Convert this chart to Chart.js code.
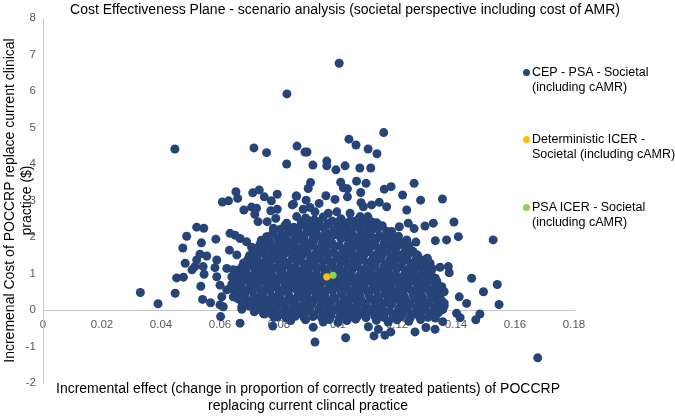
<!DOCTYPE html>
<html><head><meta charset="utf-8">
<script src="https://cdn.jsdelivr.net/npm/chart.js@4/dist/chart.umd.min.js"></script>
<style>
html,body{margin:0;padding:0;background:#fff;}
#wrap{position:relative;width:675px;height:417px;font-family:"Liberation Sans",Arial,sans-serif;color:#000;}
#c{position:absolute;left:0;top:0;}
.t{position:absolute;white-space:nowrap;}
#title{left:0;width:690px;top:0;text-align:center;font-size:14px;line-height:18px;}
#xtitle{left:8px;width:600px;top:380px;text-align:center;font-size:14px;line-height:17px;}
.lg{position:absolute;left:532px;font-size:12.5px;line-height:15px;white-space:nowrap;}
.dot{position:absolute;left:523px;width:7px;height:7px;border-radius:50%;}
</style></head>
<body>
<div id="wrap">
<canvas id="c" width="675" height="417"></canvas>
<div class="t" id="title"></div>
<div class="t" id="xtitle"></div>
<div id="legend"></div>
</div>
<script>
const chartTitle = "Cost Effectiveness Plane - scenario analysis (societal perspective including cost of AMR)";
const xAxisTitle = ["Incremental effect (change in proportion of correctly treated patients) of POCCRP", "replacing current clincal practice"];
const yAxisTitle = ["Incremenal Cost of POCCRP replace current clinical", "practice ($)"];
const seriesNames = [["CEP - PSA - Societal", "(including cAMR)"], ["Deterministic ICER -", "Societal (including cAMR)"], ["PSA ICER - Societal", "(including cAMR)"]];
const seriesColors = ["#264478", "#FFC000", "#92D050"];
const xTicks = [0, 0.02, 0.04, 0.06, 0.08, 0.1, 0.12, 0.14, 0.16, 0.18];
const xTickLabels = ["0", "0.02", "0.04", "0.06", "0.08", "0.1", "0.12", "0.14", "0.16", "0.18"];
const yTicks = [-2, -1, 0, 1, 2, 3, 4, 5, 6, 7, 8];
const yTickLabels = ["-2", "-1", "0", "1", "2", "3", "4", "5", "6", "7", "8"];

// [incremental effect, incremental cost]
const deterministicIcer = [[0.0962, 0.91]];
const psaIcer = [[0.0983, 0.95]];
const cepPsaPoints = [
[0.1004,6.76],[0.0827,5.92],[0.0447,4.41],[0.0715,4.44],[0.0758,4.31],[0.0861,4.49],[0.0888,4.33],[0.0895,4.33],[0.1037,4.68],[0.1061,4.52],[0.1102,4.41],[0.1132,4.28],[0.1155,4.86],[0.0826,4.00],[0.0915,3.97],[0.0962,4.08],[0.0962,3.95],[0.0993,3.84],[0.1024,3.95],[0.1074,3.89],[0.1111,3.89],
[0.0654,3.24],[0.0660,3.06],[0.0608,2.96],[0.0629,2.99],[0.0711,3.21],[0.0733,3.29],[0.0750,3.10],[0.0774,2.99],[0.0794,3.17],[0.0858,3.12],[0.0845,2.88],[0.0681,2.74],[0.0707,2.82],[0.0724,2.79],[0.0718,2.62],[0.0772,2.72],[0.0794,2.76],[0.0729,2.42],[0.0760,2.42],[0.0789,2.51],[0.0521,2.27],[0.0545,2.24],[0.0487,2.02],[0.0537,1.84],[0.0586,1.94],[0.0474,1.70],[0.0532,1.53],[0.0555,1.48],[0.0482,1.28],[0.0521,1.37],[0.0515,1.19],[0.0505,1.10],[0.0543,1.19],[0.0546,0.98],[0.0589,1.37],[0.0583,1.16],[0.0453,0.88],[0.0476,0.90],[0.0535,0.65],[0.0448,0.46],[0.0330,0.48],[0.0390,0.17],[0.0541,0.29],[0.0568,0.20],[0.0602,-0.18],
[0.0634,2.10],[0.0651,2.05],[0.0668,1.96],[0.0690,1.87],[0.0707,1.72],[0.0632,1.64],[0.0657,1.51],[0.0715,1.44],[0.0747,1.64],[0.0724,1.23],[0.0623,1.14],[0.0645,1.10],[0.0679,1.14],[0.0589,0.91],[0.0600,0.68],[0.0623,0.55],[0.0657,0.68],[0.0690,0.82],[0.0606,0.36],[0.0645,0.36],[0.0674,0.09],[0.0713,0.18],[0.0611,0.09],[0.0747,-0.09],[0.0781,-0.05],[0.0815,-0.09],[0.0758,2.01],[0.0781,2.24],[0.0826,2.38],[0.0854,2.15],[0.0820,2.01],[0.0803,1.78],[0.0849,1.64],[0.0781,1.42],[0.0820,1.28],[0.0758,1.01],[0.0724,0.82],[0.0792,0.82],[0.0843,0.91],[0.0696,0.55],[0.0758,0.55],[0.0809,0.55],[0.0860,0.59],[0.0724,0.32],[0.0792,0.27],[0.0843,0.23],[0.0865,0.00],
[0.0907,3.49],[0.0899,3.33],[0.0860,3.12],[0.1009,3.50],[0.1063,3.53],[0.1095,3.47],[0.1018,3.35],[0.1032,3.32],[0.1157,3.31],[0.1180,3.38],[0.1258,3.47],[0.1077,3.22],[0.0959,3.13],[0.0990,3.03],[0.1032,3.10],[0.1219,3.15],[0.1280,3.01],[0.1354,3.04],[0.0892,3.01],[0.0936,2.92],[0.1078,2.94],[0.1086,2.83],[0.1114,2.88],[0.1140,2.95],[0.1165,2.83],[0.1233,2.74],[0.0849,2.90],[0.0882,2.76],[0.0860,2.56],[0.0905,2.81],[0.0922,2.69],[0.0967,2.65],[0.0996,2.69],[0.1041,2.65],[0.1075,2.56],[0.1101,2.56],[0.0899,2.45],[0.0928,2.38],[0.1131,2.39],[0.1114,2.28],[0.1238,2.38],[0.1258,2.23],[0.1295,2.30],[0.1323,2.38],[0.1393,2.41],[0.1208,2.28],[0.1182,2.15],[0.1408,2.01],[0.1368,1.92],[0.1330,1.90],[0.1526,1.92],[0.1233,1.92],[0.1264,1.86],[0.1269,1.51],[0.1289,1.37],[0.1303,1.42],[0.1312,1.28],[0.1346,1.17],[0.1374,1.19],[0.1377,1.02],[0.1453,0.87],[0.1540,0.70],[0.1493,0.50],[0.1360,0.50],[0.1411,0.36],[0.1436,0.18],[0.1546,0.15],[0.1402,-0.09],[0.1481,-0.11],[0.1335,0.73],[0.1352,0.64],
[0.0668,-0.36],[0.0779,-0.44],[0.0916,-0.47],[0.0922,-0.88],[0.1026,-0.76],[0.0950,-0.33],[0.1103,-0.46],[0.1122,-0.71],[0.1159,-0.69],[0.1137,-0.53],[0.1179,-0.60],[0.1261,-0.60],[0.1298,-0.48],[0.1329,-0.53],[0.1355,-0.32],[0.1414,-0.21],[0.1467,-0.27],[0.1677,-1.31],[0.0674,0.02],[0.0716,-0.05],[0.0750,-0.11],[0.0600,0.14],[0.0783,-0.20],
[0.089,2.52],[0.092,2.47],[0.095,2.55],[0.098,2.44],[0.101,2.50],[0.104,2.43],[0.107,2.49],
[0.0875,2.41],[0.0905,2.37],[0.0935,2.42],[0.0965,2.36],[0.0995,2.40],[0.1025,2.38],[0.1055,2.43],[0.1085,2.37],[0.1115,2.41],
[0.082,2.31],[0.085,2.27],[0.088,2.34],[0.091,2.25],[0.094,2.30],[0.097,2.36],[0.100,2.26],[0.103,2.32],[0.106,2.28],[0.109,2.35],[0.112,2.24],[0.115,2.31],
[0.0805,2.21],[0.0835,2.17],[0.0865,2.23],[0.0895,2.19],[0.0925,2.16],[0.0955,2.22],[0.0985,2.18],[0.1015,2.24],[0.1045,2.17],[0.1075,2.21],[0.1105,2.19],[0.1135,2.22],[0.1165,2.16],
[0.078,2.12],[0.081,2.06],[0.084,2.14],[0.087,2.08],[0.090,2.15],[0.093,2.04],[0.096,2.11],[0.099,2.07],[0.102,2.13],[0.105,2.05],[0.108,2.12],[0.111,2.08],[0.114,2.03],[0.117,2.10],
[0.0765,2.01],[0.0795,1.97],[0.0825,2.03],[0.0855,1.98],[0.0885,2.02],[0.0915,1.96],[0.0945,2.01],[0.0975,1.98],[0.1005,2.03],[0.1035,1.97],[0.1065,2.00],[0.1095,2.02],[0.1125,1.96],[0.1155,2.01],[0.1185,1.98],[0.1205,2.02],
[0.074,1.91],[0.077,1.86],[0.080,1.94],[0.083,1.88],[0.086,1.92],[0.089,1.85],[0.092,1.93],[0.095,1.89],[0.098,1.84],[0.101,1.95],[0.104,1.87],[0.107,1.91],[0.110,1.86],[0.113,1.94],[0.116,1.88],[0.119,1.92],[0.122,1.85],
[0.0735,1.79],[0.0765,1.82],[0.0795,1.77],[0.0825,1.81],[0.0855,1.78],[0.0885,1.83],[0.0915,1.77],[0.0945,1.80],[0.0975,1.82],[0.1005,1.76],[0.1035,1.81],[0.1065,1.79],[0.1095,1.82],[0.1125,1.77],[0.1155,1.80],[0.1185,1.78],[0.1215,1.81],[0.1240,1.77],
[0.072,1.68],[0.075,1.73],[0.078,1.66],[0.081,1.71],[0.084,1.75],[0.087,1.67],[0.090,1.72],[0.093,1.65],[0.096,1.70],[0.099,1.74],[0.102,1.66],[0.105,1.71],[0.108,1.68],[0.111,1.73],[0.114,1.65],[0.117,1.70],[0.120,1.74],[0.123,1.67],[0.125,1.62],
[0.0715,1.59],[0.0745,1.56],[0.0775,1.61],[0.0805,1.57],[0.0835,1.62],[0.0865,1.58],[0.0895,1.60],[0.0925,1.56],[0.0955,1.61],[0.0985,1.59],[0.1015,1.57],[0.1045,1.62],[0.1075,1.58],[0.1105,1.60],[0.1135,1.56],[0.1165,1.61],[0.1195,1.59],[0.1225,1.57],[0.1255,1.60],
[0.070,1.49],[0.073,1.53],[0.076,1.46],[0.079,1.51],[0.082,1.55],[0.085,1.47],[0.088,1.52],[0.091,1.45],[0.094,1.50],[0.097,1.54],[0.100,1.47],[0.103,1.51],[0.106,1.46],[0.109,1.53],[0.112,1.48],[0.115,1.52],[0.118,1.45],[0.121,1.50],[0.124,1.54],[0.127,1.47],
[0.0695,1.39],[0.0725,1.42],[0.0755,1.37],[0.0785,1.41],[0.0815,1.38],[0.0845,1.42],[0.0875,1.36],[0.0905,1.40],[0.0935,1.43],[0.0965,1.38],[0.0995,1.41],[0.1025,1.37],[0.1055,1.42],[0.1085,1.39],[0.1115,1.36],[0.1145,1.41],[0.1175,1.38],[0.1205,1.42],[0.1235,1.37],[0.1265,1.40],
[0.068,1.29],[0.071,1.33],[0.074,1.26],[0.077,1.31],[0.080,1.35],[0.083,1.27],[0.086,1.32],[0.089,1.25],[0.092,1.30],[0.095,1.34],[0.098,1.28],[0.101,1.31],[0.104,1.26],[0.107,1.33],[0.110,1.29],[0.113,1.32],[0.116,1.25],[0.119,1.30],[0.122,1.34],[0.125,1.27],[0.128,1.31],
[0.0675,1.19],[0.0705,1.22],[0.0735,1.17],[0.0765,1.21],[0.0795,1.18],[0.0825,1.23],[0.0855,1.17],[0.0885,1.20],[0.0915,1.22],[0.0945,1.18],[0.0975,1.21],[0.1005,1.16],[0.1035,1.22],[0.1065,1.19],[0.1095,1.17],[0.1125,1.21],[0.1155,1.18],[0.1185,1.22],[0.1215,1.19],[0.1245,1.17],[0.1275,1.21],[0.1300,1.18],
[0.066,1.09],[0.069,1.13],[0.072,1.06],[0.075,1.11],[0.078,1.15],[0.081,1.07],[0.084,1.12],[0.087,1.05],[0.090,1.10],[0.093,1.14],[0.096,1.08],[0.099,1.11],[0.102,1.06],[0.105,1.13],[0.108,1.09],[0.111,1.12],[0.114,1.05],[0.117,1.10],[0.120,1.14],[0.123,1.07],[0.126,1.11],[0.129,1.08],[0.132,1.13],
[0.0655,0.99],[0.0685,1.02],[0.0715,0.97],[0.0745,1.01],[0.0775,0.98],[0.0805,1.03],[0.0835,0.97],[0.0865,1.00],[0.0895,1.02],[0.0925,0.98],[0.0955,1.01],[0.0985,0.96],[0.1015,1.02],[0.1045,0.99],[0.1075,0.97],[0.1105,1.01],[0.1135,0.98],[0.1165,1.02],[0.1195,0.99],[0.1225,0.97],[0.1255,1.01],[0.1285,0.98],[0.1315,1.02],
[0.064,0.91],[0.067,0.86],[0.070,0.93],[0.073,0.88],[0.076,0.92],[0.079,0.85],[0.082,0.90],[0.085,0.94],[0.088,0.87],[0.091,0.91],[0.094,0.86],[0.097,0.93],[0.100,0.89],[0.103,0.92],[0.106,0.85],[0.109,0.90],[0.112,0.94],[0.115,0.87],[0.118,0.91],[0.121,0.86],[0.124,0.93],[0.127,0.88],[0.130,0.92],[0.133,0.87],
[0.0655,0.79],[0.0685,0.82],[0.0715,0.77],[0.0745,0.81],[0.0775,0.78],[0.0805,0.83],[0.0835,0.77],[0.0865,0.80],[0.0895,0.82],[0.0925,0.78],[0.0955,0.81],[0.0985,0.76],[0.1015,0.82],[0.1045,0.79],[0.1075,0.77],[0.1105,0.81],[0.1135,0.78],[0.1165,0.82],[0.1195,0.79],[0.1225,0.77],[0.1255,0.81],[0.1285,0.78],[0.1315,0.82],[0.1335,0.79],
[0.064,0.71],[0.067,0.67],[0.070,0.74],[0.073,0.69],[0.076,0.72],[0.079,0.66],[0.082,0.71],[0.085,0.75],[0.088,0.68],[0.091,0.72],[0.094,0.67],[0.097,0.73],[0.100,0.69],[0.103,0.72],[0.106,0.66],[0.109,0.71],[0.112,0.74],[0.115,0.68],[0.118,0.72],[0.121,0.67],[0.124,0.73],[0.127,0.69],[0.130,0.72],[0.133,0.66],
[0.0635,0.59],[0.0665,0.62],[0.0695,0.57],[0.0725,0.61],[0.0755,0.58],[0.0785,0.63],[0.0815,0.57],[0.0845,0.60],[0.0875,0.62],[0.0905,0.58],[0.0935,0.61],[0.0965,0.56],[0.0995,0.62],[0.1025,0.59],[0.1055,0.57],[0.1085,0.61],[0.1115,0.58],[0.1145,0.62],[0.1175,0.59],[0.1205,0.57],[0.1235,0.61],[0.1265,0.58],[0.1295,0.62],[0.1325,0.59],[0.1345,0.57],
[0.065,0.52],[0.068,0.47],[0.071,0.53],[0.074,0.49],[0.077,0.54],[0.080,0.46],[0.083,0.51],[0.086,0.55],[0.089,0.48],[0.092,0.52],[0.095,0.47],[0.098,0.53],[0.101,0.49],[0.104,0.52],[0.107,0.46],[0.110,0.51],[0.113,0.54],[0.116,0.48],[0.119,0.52],[0.122,0.47],[0.125,0.53],[0.128,0.49],[0.131,0.52],[0.134,0.46],
[0.0655,0.39],[0.0685,0.42],[0.0715,0.37],[0.0745,0.41],[0.0775,0.38],[0.0805,0.43],[0.0835,0.37],[0.0865,0.40],[0.0895,0.42],[0.0925,0.38],[0.0955,0.41],[0.0985,0.36],[0.1015,0.42],[0.1045,0.39],[0.1075,0.37],[0.1105,0.41],[0.1135,0.38],[0.1165,0.42],[0.1195,0.39],[0.1225,0.37],[0.1255,0.41],[0.1285,0.38],[0.1315,0.42],[0.1345,0.39],
[0.066,0.31],[0.069,0.27],[0.072,0.33],[0.075,0.29],[0.078,0.34],[0.081,0.26],[0.084,0.31],[0.087,0.35],[0.090,0.28],[0.093,0.32],[0.096,0.27],[0.099,0.33],[0.102,0.29],[0.105,0.32],[0.108,0.26],[0.111,0.31],[0.114,0.34],[0.117,0.28],[0.120,0.32],[0.123,0.27],[0.126,0.33],[0.129,0.29],[0.132,0.32],[0.135,0.27],
[0.0675,0.19],[0.0705,0.22],[0.0735,0.17],[0.0765,0.21],[0.0795,0.18],[0.0825,0.23],[0.0855,0.17],[0.0885,0.20],[0.0915,0.22],[0.0945,0.18],[0.0975,0.21],[0.1005,0.16],[0.1035,0.22],[0.1065,0.19],[0.1095,0.17],[0.1125,0.21],[0.1155,0.18],[0.1185,0.22],[0.1215,0.19],[0.1245,0.17],[0.1275,0.21],[0.1305,0.18],[0.1335,0.22],[0.1360,0.19],
[0.070,0.11],[0.073,0.07],[0.076,0.13],[0.079,0.09],[0.082,0.14],[0.085,0.06],[0.088,0.11],[0.091,0.15],[0.094,0.08],[0.097,0.12],[0.100,0.07],[0.103,0.13],[0.106,0.09],[0.109,0.12],[0.112,0.06],[0.115,0.11],[0.118,0.14],[0.121,0.08],[0.124,0.12],[0.127,0.07],[0.130,0.13],[0.133,0.09],[0.136,0.11],
[0.0725,0.01],[0.0755,-0.02],[0.0785,0.03],[0.0815,-0.01],[0.0845,0.02],[0.0875,-0.03],[0.0905,0.01],[0.0935,0.03],[0.0965,-0.02],[0.0995,0.02],[0.1025,-0.01],[0.1055,0.03],[0.1085,-0.02],[0.1115,0.01],[0.1145,0.02],[0.1175,-0.03],[0.1205,0.01],[0.1235,0.03],[0.1265,-0.02],[0.1295,0.02],[0.1325,-0.01],[0.1355,0.01],
[0.077,-0.09],[0.080,-0.13],[0.083,-0.07],[0.086,-0.11],[0.089,-0.06],[0.092,-0.14],[0.095,-0.09],[0.098,-0.05],[0.101,-0.12],[0.104,-0.08],[0.107,-0.13],[0.110,-0.07],[0.113,-0.11],[0.116,-0.06],[0.119,-0.14],[0.122,-0.09],[0.125,-0.12],[0.128,-0.07],[0.131,-0.11],[0.134,-0.08],
[0.0795,-0.19],[0.0825,-0.22],[0.0855,-0.17],[0.0885,-0.21],[0.0915,-0.18],[0.0945,-0.22],[0.0975,-0.17],[0.1005,-0.20],[0.1035,-0.22],[0.1065,-0.18],[0.1095,-0.21],[0.1125,-0.17],[0.1155,-0.20],[0.1185,-0.22],[0.1215,-0.18],[0.1245,-0.21],[0.1275,-0.17],[0.1305,-0.20],[0.1330,-0.22],
[0.084,-0.29],[0.089,-0.27],[0.097,-0.26],[0.103,-0.29],[0.106,-0.25],[0.113,-0.28],[0.120,-0.27],[0.124,-0.31],[0.128,-0.26],[0.100,-0.34],[0.117,-0.33]
];

document.getElementById('title').textContent = chartTitle;
document.getElementById('xtitle').innerHTML = xAxisTitle.map(s => s.replace(/&/g,'&amp;').replace(/</g,'&lt;')).join('<br>');
const legendTops = [64.5, 131.5, 199.5];
const lg = document.getElementById('legend');
seriesNames.forEach((lines, i) => {
  const d = document.createElement('div');
  d.className = 'dot';
  d.style.top = (legendTops[i] + 4) + 'px';
  d.style.background = seriesColors[i];
  lg.appendChild(d);
  const t = document.createElement('div');
  t.className = 'lg';
  t.style.top = legendTops[i] + 'px';
  t.innerHTML = lines.join('<br>');
  lg.appendChild(t);
});

const toXY = arr => arr.map(p => ({x: p[0], y: p[1]}));
const tickFont = {family: "'Liberation Sans', Arial, sans-serif", size: 11.5};

new Chart(document.getElementById('c'), {
  type: 'scatter',
  data: {
    datasets: [
      {label: seriesNames[2].join(' '), data: toXY(psaIcer), backgroundColor: seriesColors[2], borderWidth: 0, pointRadius: 3.6, pointHoverRadius: 3.6, order: 0},
      {label: seriesNames[1].join(' '), data: toXY(deterministicIcer), backgroundColor: seriesColors[1], borderWidth: 0, pointRadius: 3.6, pointHoverRadius: 3.6, order: 1},
      {label: seriesNames[0].join(' '), data: toXY(cepPsaPoints), backgroundColor: seriesColors[0], borderWidth: 0, pointRadius: 4.5, pointHoverRadius: 4.5, order: 2}
    ]
  },
  options: {
    responsive: false,
    animation: false,
    devicePixelRatio: 1,
    layout: {padding: {top: 18, right: 101, bottom: 34, left: 0}},
    plugins: {legend: {display: false}, title: {display: false}, tooltip: {enabled: false}},
    scales: {
      x: {
        type: 'linear',
        position: {y: 0},
        min: 0, max: 0.18,
        afterBuildTicks: s => { s.ticks = xTicks.map(v => ({value: v})); },
        grid: {display: false, drawTicks: false, tickLength: 0},
        border: {display: true, color: '#c8c8c8', width: 1},
        ticks: {color: '#595959', font: tickFont, padding: 8, maxRotation: 0, autoSkip: false,
          callback: (v, i) => xTickLabels[i]}
      },
      y: {
        type: 'linear',
        position: 'left',
        min: -2, max: 8,
        afterBuildTicks: s => { s.ticks = yTicks.map(v => ({value: v})); },
        afterFit: s => { s.width = 43; },
        grid: {display: false, drawTicks: false, tickLength: 0},
        border: {display: true, color: '#c8c8c8', width: 1},
        ticks: {color: '#595959', font: tickFont, padding: 7, autoSkip: false,
          callback: (v, i) => yTickLabels[i]},
        title: {display: true, text: yAxisTitle, color: '#000',
          font: {family: "'Liberation Sans', Arial, sans-serif", size: 14, lineHeight: 1.2},
          padding: {top: 1.6, bottom: 0}}
      }
    }
  }
});
</script>
</body></html>
